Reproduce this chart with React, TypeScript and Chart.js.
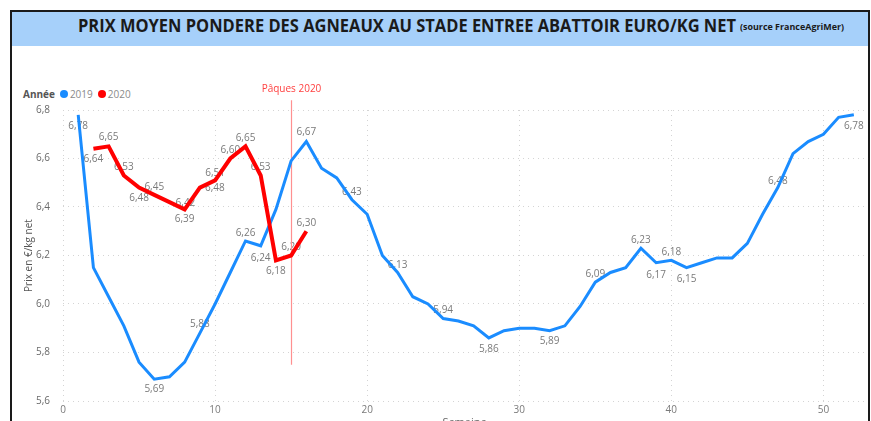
import React, { useEffect, useLayoutEffect, useRef } from "react";
import { Chart, registerables } from "chart.js";

Chart.register(...registerables);

// ---- Data ----
const TITLE = "PRIX MOYEN PONDERE DES AGNEAUX AU STADE ENTREE ABATTOIR EURO/KG NET";
const SOURCE = "(source FranceAgriMer)";
const LEGEND_TITLE = "Année";
const SERIES_NAMES = ["2019", "2020"];
const Y_AXIS_TITLE = "Prix en €/kg net";
const X_AXIS_TITLE = "Semaine";
const EASTER_LABEL = "Pâques 2020";
const EASTER_WEEK = 15;
const EASTER_LINE_FROM = 6.84;
const EASTER_LINE_TO = 5.75;

const weeks2019 = [
  1, 2, 3, 4, 5, 6, 7, 8, 9, 10, 11, 12, 13, 14, 15, 16, 17, 18, 19, 20, 21, 22, 23, 24, 25, 26,
  27, 28, 29, 30, 31, 32, 33, 34, 35, 36, 37, 38, 39, 40, 41, 42, 43, 44, 45, 46, 47, 48, 49, 50, 51, 52,
];
const prices2019 = [
  6.78, 6.15, 6.03, 5.91, 5.76, 5.69, 5.7, 5.76, 5.88, 6.0, 6.13, 6.26, 6.24, 6.39, 6.59, 6.67, 6.56,
  6.52, 6.43, 6.37, 6.2, 6.13, 6.03, 6.0, 5.94, 5.93, 5.91, 5.86, 5.89, 5.9, 5.9, 5.89, 5.91, 5.99,
  6.09, 6.13, 6.15, 6.23, 6.17, 6.18, 6.15, 6.17, 6.19, 6.19, 6.25, 6.37, 6.48, 6.62, 6.67, 6.7, 6.77, 6.78,
];
const weeks2020 = [2, 3, 4, 5, 6, 7, 8, 9, 10, 11, 12, 13, 14, 15, 16];
const prices2020 = [6.64, 6.65, 6.53, 6.48, 6.45, 6.42, 6.39, 6.48, 6.51, 6.6, 6.65, 6.53, 6.18, 6.2, 6.3];

const yTicks = [5.6, 5.8, 6.0, 6.2, 6.4, 6.6, 6.8];
const xTicks = [0, 10, 20, 30, 40, 50];

// Which points carry a value label: [datasetIndex, week, dy(px), dx(px)]
const labelSpecs: [number, number, number, number][] = [
  [0, 1, 11, 0], [0, 6, 10, 0], [0, 9, -9, 0], [0, 12, -8, 0], [0, 13, 12, 0], [0, 16, -9, 0],
  [0, 19, -8, 0], [0, 22, -7, 0], [0, 25, -8, 0], [0, 28, 11, 0], [0, 32, 10, 0], [0, 35, -8, 0],
  [0, 38, -8, 0], [0, 39, 12, 0], [0, 40, -8, 0], [0, 41, 12, 0], [0, 47, -6, 0], [0, 52, 11, 0],
  [1, 2, 10, 0], [1, 3, -9, 0], [1, 4, -8, 0], [1, 5, 11, 0], [1, 6, -8, 0], [1, 7, 1, 16],
  [1, 8, 10, 0], [1, 9, 1, 15], [1, 10, -7, 0], [1, 11, -8, 0], [1, 12, -8, 0], [1, 13, -8, 0],
  [1, 14, 11, 0], [1, 15, -8, 0], [1, 16, -8, 0],
];

const BLUE = "#1a8cff";
const RED = "#ff0000";
const FONT = "'Open Sans', 'Noto Sans', sans-serif";

const fmt = (v: number, d: number) => v.toFixed(d).replace(".", ",");

const overlayPlugin = {
  id: "overlay",
  beforeDatasetsDraw(chart: any) {
    const { ctx } = chart;
    const xs = chart.scales.x;
    const ys = chart.scales.y;
    ctx.save();
    // value labels
    ctx.font = `10px ${FONT}`;
    ctx.fillStyle = "#7a7a7a";
    ctx.textAlign = "center";
    ctx.textBaseline = "middle";
    labelSpecs.forEach(([ds, wk, dy, dx]) => {
      const weeks = ds === 0 ? weeks2019 : weeks2020;
      const vals = ds === 0 ? prices2019 : prices2020;
      const i = weeks.indexOf(wk);
      if (i < 0) return;
      const px = xs.getPixelForValue(wk) + dx;
      const py = ys.getPixelForValue(vals[i]) + dy;
      ctx.fillText(fmt(vals[i], 2), px, py);
    });
    // Easter line
    const ex = Math.round(xs.getPixelForValue(EASTER_WEEK)) + 0.5;
    ctx.strokeStyle = "#ff9090";
    ctx.lineWidth = 1.2;
    ctx.beginPath();
    ctx.moveTo(ex, ys.getPixelForValue(EASTER_LINE_FROM));
    ctx.lineTo(ex, ys.getPixelForValue(EASTER_LINE_TO));
    ctx.stroke();
    ctx.fillStyle = "#ff4040";
    ctx.font = `10px ${FONT}`;
    ctx.fillText(EASTER_LABEL, ex, ys.getPixelForValue(EASTER_LINE_FROM) - 11);
    ctx.restore();
  },
};

export default function App() {
  const canvasRef = useRef<HTMLCanvasElement | null>(null);
  const titleRef = useRef<HTMLSpanElement | null>(null);
  const sourceRef = useRef<HTMLSpanElement | null>(null);

  useLayoutEffect(() => {
    const fit = (el: HTMLSpanElement | null, w: number) => {
      if (!el) return;
      el.style.transform = "none";
      const cur = el.getBoundingClientRect().width;
      if (cur > 0) el.style.transform = `scaleX(${w / cur})`;
    };
    fit(titleRef.current, 658);
    fit(sourceRef.current, 104);
  }, []);

  useEffect(() => {
    if (!canvasRef.current) return;
    const chart = new Chart(canvasRef.current, {
      type: "line",
      data: {
        datasets: [
          {
            label: SERIES_NAMES[0],
            data: weeks2019.map((w, i) => ({ x: w, y: prices2019[i] })),
            borderColor: BLUE,
            backgroundColor: BLUE,
            borderWidth: 3,
            pointRadius: 0,
            tension: 0,
            order: 2,
          },
          {
            label: SERIES_NAMES[1],
            data: weeks2020.map((w, i) => ({ x: w, y: prices2020[i] })),
            borderColor: RED,
            backgroundColor: RED,
            borderWidth: 4,
            pointRadius: 0,
            tension: 0,
            order: 1,
          },
        ],
      },
      options: {
        animation: false,
        responsive: false,
        maintainAspectRatio: false,
        layout: { padding: { top: 62, right: 2, left: 0, bottom: 0 } },
        plugins: {
          legend: { display: false },
          title: { display: false },
          tooltip: { enabled: false },
        },
        scales: {
          x: {
            type: "linear",
            min: 0,
            max: 52.8,
            afterBuildTicks: (s: any) => {
              s.ticks = xTicks.map((v) => ({ value: v }));
            },
            afterFit: (s: any) => {
              s.height = 42;
            },
            ticks: {
              color: "#7a7a7a",
              font: { family: FONT, size: 10 },
              padding: 3,
              maxRotation: 0,
              callback: (v: any) => String(v),
            },
            grid: {
              color: "#d4d4d4",
              lineWidth: 1,
              drawTicks: false,
            },
            border: { display: false, dash: [1, 4] },
            title: {
              display: true,
              text: X_AXIS_TITLE,
              color: "#666",
              font: { family: FONT, size: 11 },
              padding: { top: 0, bottom: 14 },
            },
          },
          y: {
            type: "linear",
            min: 5.6,
            max: 6.8,
            afterBuildTicks: (s: any) => {
              s.ticks = yTicks.map((v) => ({ value: v }));
            },
            afterFit: (s: any) => {
              s.width = 51;
            },
            ticks: {
              color: "#6a6a6a",
              font: { family: FONT, size: 10 },
              padding: 13,
              callback: (v: any) => fmt(Number(v), 1),
            },
            grid: {
              color: "#d4d4d4",
              lineWidth: 1,
              drawTicks: false,
            },
            border: { display: false, dash: [1, 4] },
            title: {
              display: true,
              text: Y_AXIS_TITLE,
              color: "#555",
              font: { family: FONT, size: 10 },
              padding: { top: 11, bottom: 0 },
            },
          },
        },
      },
      plugins: [overlayPlugin],
    });
    return () => chart.destroy();
  }, []);

  return (
    <div
      style={{
        position: "absolute",
        left: 0,
        top: 0,
        width: 871,
        height: 421,
        overflow: "hidden",
        background: "#fff",
        fontFamily: FONT,
      }}
    >
      <div
        style={{
          position: "absolute",
          left: 10,
          top: 10,
          width: 856,
          height: 430,
          border: "2px solid #1a1a1a",
        }}
      />
      <div
        style={{
          position: "absolute",
          left: 12,
          top: 12,
          width: 856,
          height: 34,
          background: "#a6d0fa",
        }}
      />
      <span
        ref={titleRef}
        style={{
          position: "absolute",
          left: 78,
          top: 14,
          fontSize: 18,
          fontWeight: 700,
          color: "#1a1a1a",
          whiteSpace: "nowrap",
          transformOrigin: "0 0",
          lineHeight: "22px",
        }}
      >
        {TITLE}
      </span>
      <span
        ref={sourceRef}
        style={{
          position: "absolute",
          left: 740,
          top: 21,
          fontSize: 9,
          fontWeight: 700,
          color: "#1a1a1a",
          whiteSpace: "nowrap",
          transformOrigin: "0 0",
          lineHeight: "12px",
        }}
      >
        {SOURCE}
      </span>
      <div
        style={{
          position: "absolute",
          left: 23,
          top: 87,
          height: 14,
          display: "flex",
          alignItems: "center",
          fontSize: 10,
          whiteSpace: "nowrap",
        }}
      >
        <span style={{ fontWeight: 700, color: "#555", marginRight: 5 }}>{LEGEND_TITLE}</span>
        <span style={{ width: 8, height: 8, borderRadius: 4, background: BLUE, marginRight: 2 }} />
        <span style={{ color: "#8a8a8a", marginRight: 5 }}>{SERIES_NAMES[0]}</span>
        <span style={{ width: 8, height: 8, borderRadius: 4, background: RED, marginRight: 2 }} />
        <span style={{ color: "#8a8a8a" }}>{SERIES_NAMES[1]}</span>
      </div>
      <canvas
        ref={canvasRef}
        width={856}
        height={395}
        style={{ position: "absolute", left: 12, top: 48, width: 856, height: 395 }}
      />
    </div>
  );
}
